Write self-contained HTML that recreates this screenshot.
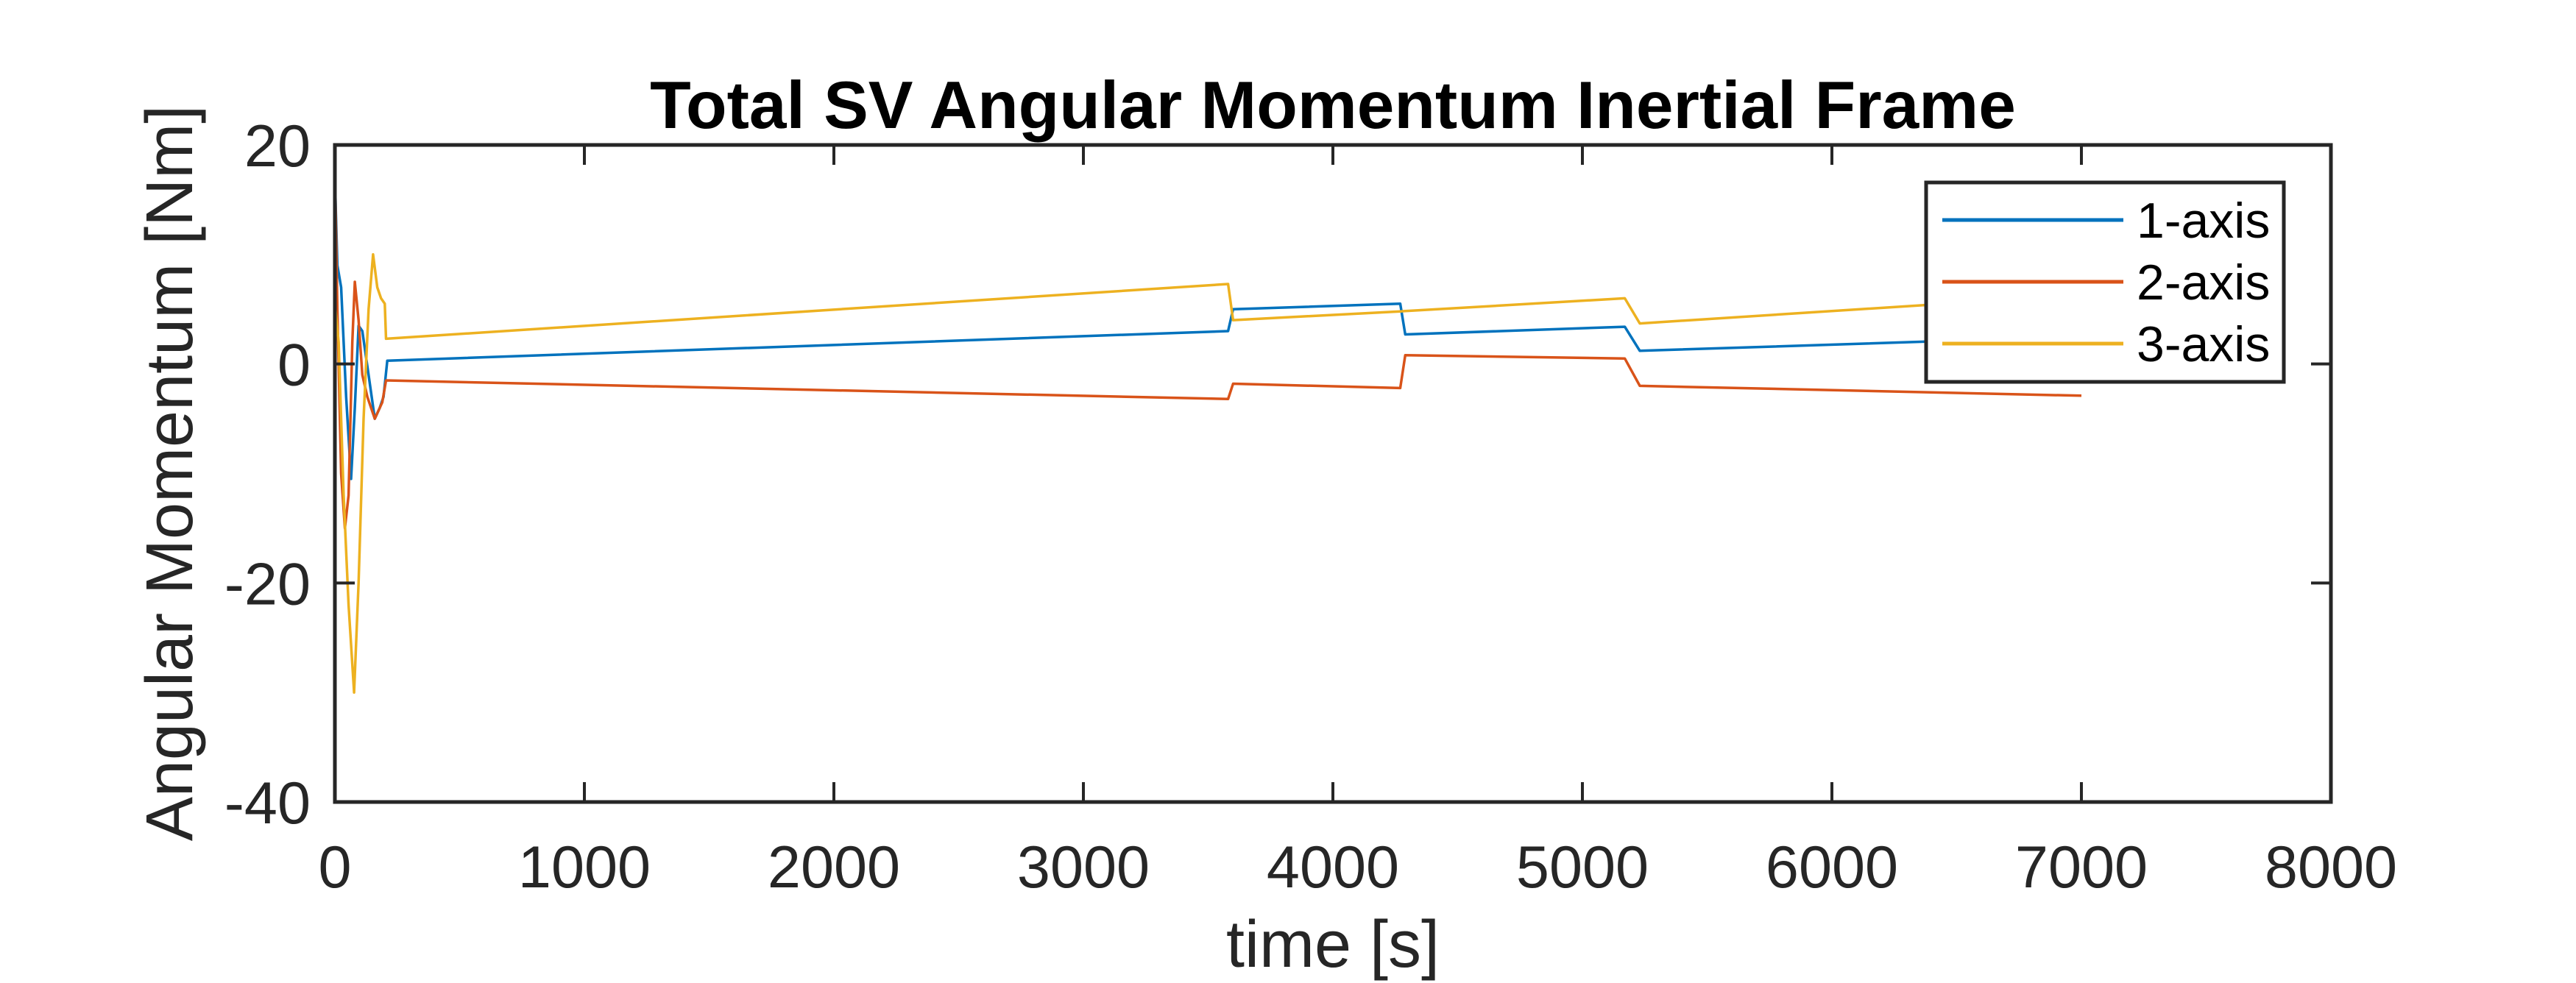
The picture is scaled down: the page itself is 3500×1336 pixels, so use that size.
<!DOCTYPE html>
<html><head><meta charset="utf-8"><style>
html,body{margin:0;padding:0;background:#fff;}
svg{display:block;font-family:"Liberation Sans",Arial,sans-serif;}
</style></head><body>
<svg id="chart" width="3500" height="1336" viewBox="0 0 3500 1336" xmlns="http://www.w3.org/2000/svg">
<rect width="3500" height="1336" fill="#fff"/>
<g id="series"></g>
<g id="axes"></g>
<g id="legend"></g>
<text x="1811" y="174" text-anchor="middle" font-size="91" font-weight="bold" fill="#000">Total SV Angular Momentum Inertial Frame</text>
<text x="1811" y="1314" text-anchor="middle" font-size="90" fill="#262626">time [s]</text>
<text transform="translate(261,643) rotate(-90)" text-anchor="middle" font-size="90" fill="#262626">Angular Momentum [Nm]</text>
</svg>
<script>
const xTicks = [0,1000,2000,3000,4000,5000,6000,7000,8000];
const yTicks = [20,0,-20,-40];
const seriesNames = ['1-axis','2-axis','3-axis'];
const seriesColors = ['#0072BD','#D95319','#EDB120'];
const t1 = [0,10,25,45,65,80,95,110,135,160,180,195,210,3580,3600,4270,4290,5170,5230,7000];
const v1 = [17,9,7,-3,-10.5,-4,3.5,3,-1,-5,-4,-3,0.3,3,5,5.5,2.7,3.4,1.2,2.5];
const t2 = [0,10,25,40,55,70,80,95,110,130,160,190,205,3580,3600,4270,4290,5170,5230,7000];
const v2 = [18,5,-10,-15,-12,2,7.5,4,-1,-3,-5,-3.5,-1.5,-3.2,-1.8,-2.2,0.8,0.5,-2,-2.9];
const t3 = [0,15,35,55,77,95,115,135,153,170,185,200,205,3580,3600,4270,5170,5230,7000];
const v3 = [5.5,2,-12,-22,-30,-20,-5,5,10,7,6,5.5,2.3,7.3,4,4.8,6,3.7,6.3];
const seriesT = [t1,t2,t3];
const seriesV = [v1,v2,v3];

const X0=455,X1=3167,Y0=197,Y1=1090;
const xMin=0,xMax=8000,yMin=-40,yMax=20;
function xs(t){return X0+(t-xMin)/(xMax-xMin)*(X1-X0);}
function ys(v){return Y1-(v-yMin)/(yMax-yMin)*(Y1-Y0);}
const NS='http://www.w3.org/2000/svg';
function mk(tag,attrs,parent){const e=document.createElementNS(NS,tag);for(const k in attrs)e.setAttribute(k,attrs[k]);parent.appendChild(e);return e;}

const sg=document.getElementById('series');
for(let i=0;i<3;i++){
  const d=seriesT[i].map((t,j)=>(j?'L':'M')+xs(t).toFixed(1)+' '+ys(seriesV[i][j]).toFixed(1)).join(' ');
  const p=mk('path',{d:d,fill:'none',stroke:seriesColors[i],'stroke-width':3.5,'stroke-linejoin':'round'},sg);
  
  
}

const ag=document.getElementById('axes');
const box=mk('rect',{x:X0,y:Y0,width:X1-X0,height:Y1-Y0,fill:'none',stroke:'#262626','stroke-width':5},ag);


const TL=27;
xTicks.forEach(t=>{
  const x=xs(t);
  mk('line',{x1:x,y1:Y1,x2:x,y2:Y1-TL,stroke:'#262626','stroke-width':4},ag);
  mk('line',{x1:x,y1:Y0,x2:x,y2:Y0+TL,stroke:'#262626','stroke-width':4},ag);
  const tx=mk('text',{x:x,y:1206,'text-anchor':'middle','font-size':81,fill:'#262626'},ag);
  tx.textContent=t;
  
  
});
yTicks.forEach(v=>{
  const y=ys(v);
  mk('line',{x1:X0,y1:y,x2:X0+TL,y2:y,stroke:'#262626','stroke-width':4},ag);
  mk('line',{x1:X1,y1:y,x2:X1-TL,y2:y,stroke:'#262626','stroke-width':4},ag);
  const tx=mk('text',{x:422,y:y+29,'text-anchor':'end','font-size':81,fill:'#262626'},ag);
  tx.textContent=v;
  
  
});

const lg=document.getElementById('legend');
const lb=mk('rect',{x:2617,y:248,width:486,height:271,fill:'#fff',stroke:'#262626','stroke-width':5},lg);


const ly=[299,383,467];
for(let i=0;i<3;i++){
  const ln=mk('line',{x1:2639,y1:ly[i],x2:2885,y2:ly[i],stroke:seriesColors[i],'stroke-width':5},lg);
  
  
  const tx=mk('text',{x:2903,y:ly[i]+24,'font-size':68,fill:'#000'},lg);
  tx.textContent=seriesNames[i];
  
  
}
</script>
</body></html>
